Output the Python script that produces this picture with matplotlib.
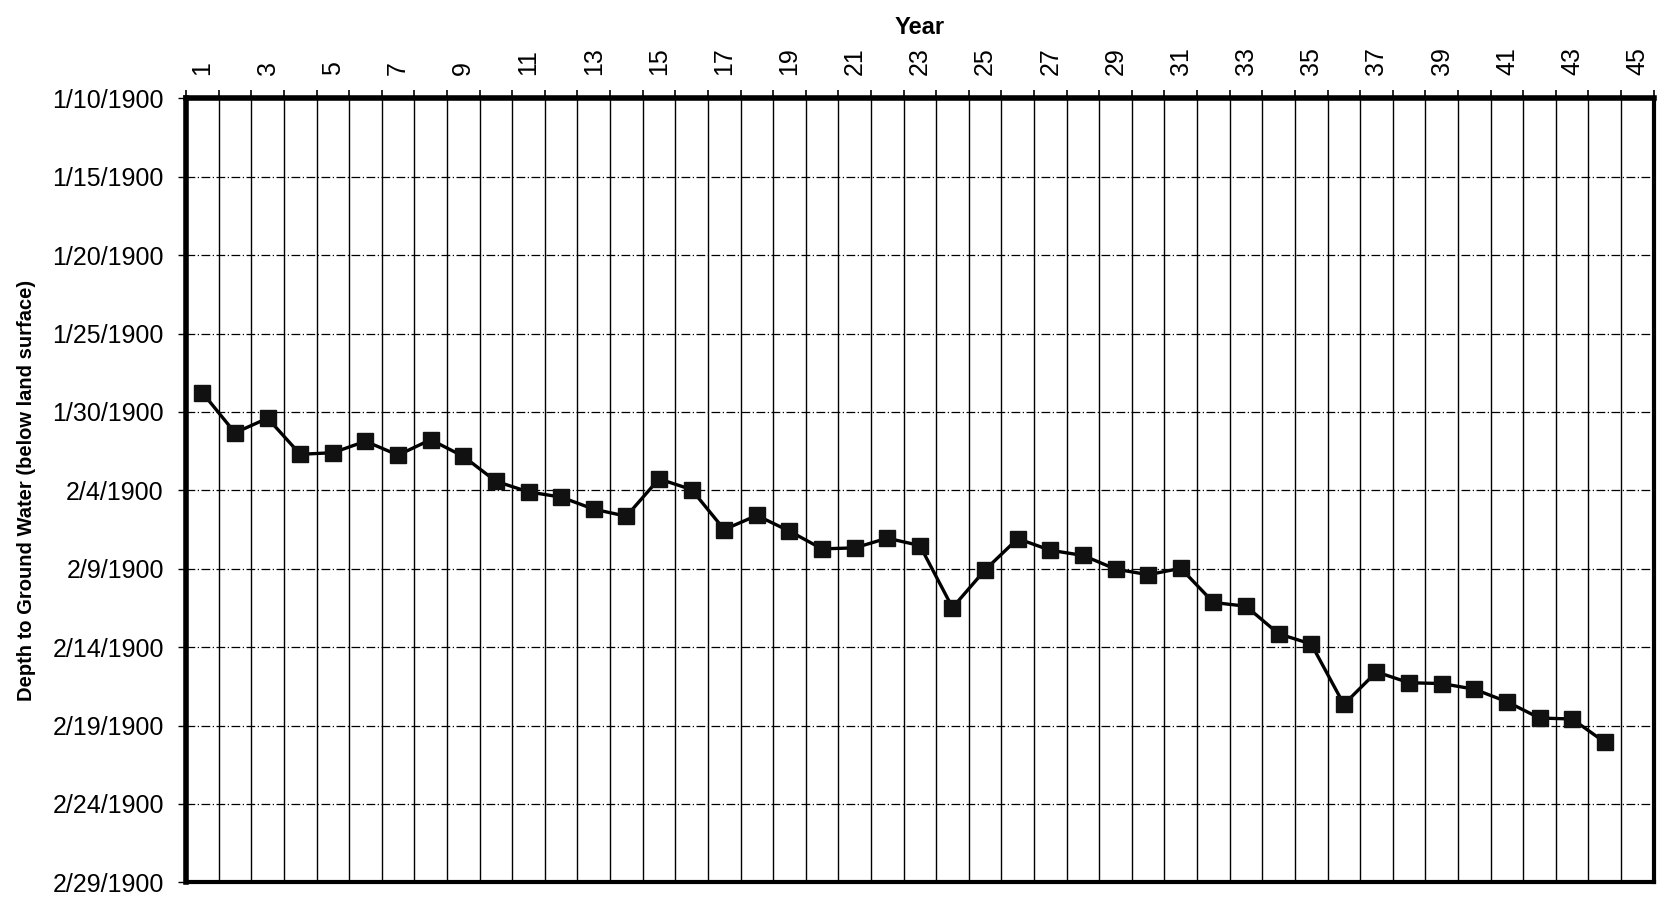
import matplotlib
matplotlib.use("Agg")
import matplotlib.pyplot as plt
import numpy as np

plt.rcParams['font.family'] = ['Liberation Sans', 'DejaVu Sans']

years = list(range(1, 45))
depth = [28.77, 31.33, 30.40, 32.70, 32.60, 31.87, 32.75, 31.77, 32.83, 34.42,
         35.10, 35.43, 36.20, 36.65, 34.27, 34.95, 37.50, 36.60, 37.60, 38.73,
         38.67, 38.05, 38.52, 42.48, 40.07, 38.08, 38.82, 39.15, 40.02, 40.38,
         39.97, 42.15, 42.39, 44.15, 44.80, 48.65, 46.58, 47.27, 47.32, 47.68,
         48.48, 49.52, 49.58, 51.06]
ytick_vals = [10, 15, 20, 25, 30, 35, 40, 45, 50, 55, 60]
ytick_labels = ['1/10/1900', '1/15/1900', '1/20/1900', '1/25/1900', '1/30/1900',
                '2/4/1900', '2/9/1900', '2/14/1900', '2/19/1900', '2/24/1900',
                '2/29/1900']
xtick_vals = list(range(1, 46, 2))
n_categories = 45

fig = plt.figure(figsize=(16.57, 8.98), dpi=100)
ax = fig.add_axes([0.1123, 0.0174, 0.8857, 0.8731])

ax.plot(years, depth, color='black', lw=2.4, marker='s', markersize=12,
        markerfacecolor='#111111', markeredgecolor='#111111', zorder=3)

ax.set_xlim(0.5, n_categories + 0.5)
ax.set_ylim(60, 10)

# x axis on top
ax.xaxis.tick_top()
ax.xaxis.set_label_position('top')
ax.set_xticks(xtick_vals)
ax.set_xticklabels([str(v) for v in xtick_vals], rotation=90, fontsize=18)
ax.set_xticks(np.arange(0.5, n_categories + 1, 1.0), minor=True)
ax.tick_params(axis='x', which='major', length=0, pad=17)
ax.tick_params(axis='x', which='minor', length=6, width=1.2, direction='out',
               top=True, bottom=False)
ax.set_xlabel('Year', fontsize=17, fontweight='bold', labelpad=9)

ax.set_yticks(ytick_vals)
ax.set_yticklabels(ytick_labels, fontsize=18)
ax.tick_params(axis='y', which='major', length=6, width=1.0, pad=10)
ax.set_ylabel('Depth to Ground Water (below land surface)', fontsize=14.5,
              fontweight='bold', labelpad=12)

# grid
ax.grid(True, axis='x', which='minor', color='black', lw=1.0, ls='-')
ax.grid(True, axis='y', which='major', color='black', lw=0.9, ls=(0, (7, 2, 1, 2)))
ax.grid(False, axis='x', which='major')

for s in ['left', 'top']:
    ax.spines[s].set_linewidth(4.0)
for s in ['right', 'bottom']:
    ax.spines[s].set_linewidth(3.0)

fig.savefig('out.png', dpi=100)
